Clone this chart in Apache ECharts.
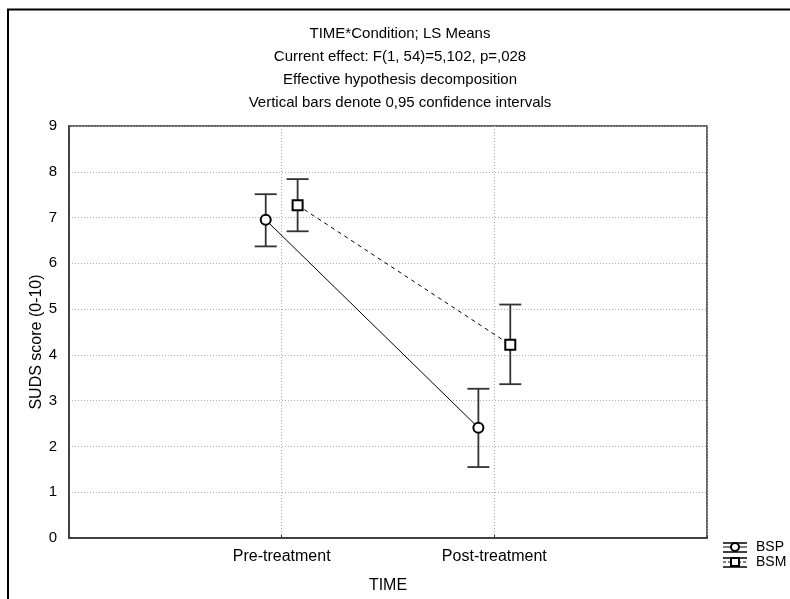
<!DOCTYPE html>
<html>
<head>
<meta charset="utf-8">
<script src="https://cdn.jsdelivr.net/npm/echarts@6/dist/echarts.min.js"></script>
<style>
html,body{margin:0;padding:0;background:#fff;}
#chart{width:790px;height:599px;}
</style>
</head>
<body>
<div id="chart"></div>
<script>
// data
const categories = ['Pre-treatment', 'Post-treatment'];
const bspMean = [6.95, 2.41];
const bspLow = [6.37, 1.55];
const bspHigh = [7.51, 3.26];
const bsmMean = [7.27, 4.22];
const bsmLow = [6.70, 3.36];
const bsmHigh = [7.84, 5.10];
const yTicks = [0, 1, 2, 3, 4, 5, 6, 7, 8, 9];
const titleLines = [
  'TIME*Condition; LS Means',
  'Current effect: F(1, 54)=5,102, p=,028',
  'Effective hypothesis decomposition',
  'Vertical bars denote 0,95 confidence intervals'
];

const shift = 0.075; // horizontal dodge of the two groups
const font = 'Liberation Sans, Arial, sans-serif';

const pts = (mean, off) => mean.map((v, i) => [i + 1 + off, v]);
const bars = (low, high, off) => low.map((v, i) => [i + 1 + off, v, high[i]]);

const errRender = (params, api) => {
  const x = api.value(0);
  const lo = api.coord([x, api.value(1)]);
  const hi = api.coord([x, api.value(2)]);
  const w = 11;
  const st = { stroke: '#333', lineWidth: 1.8 };
  return {
    type: 'group',
    children: [
      { type: 'line', shape: { x1: lo[0], y1: lo[1], x2: hi[0], y2: hi[1] }, style: st },
      { type: 'line', shape: { x1: lo[0] - w, y1: lo[1], x2: lo[0] + w, y2: lo[1] }, style: st },
      { type: 'line', shape: { x1: hi[0] - w, y1: hi[1], x2: hi[0] + w, y2: hi[1] }, style: st }
    ]
  };
};

const myChart = echarts.init(document.getElementById('chart'));

// small legend drawn by hand (symbols carry an error bar)
const legendItem = (y, name, square) => {
  const x = 735;
  const st = { stroke: '#000', lineWidth: 1.5 };
  const kids = [
    { type: 'line', shape: { x1: x - 12, y1: y - 4, x2: x + 12, y2: y - 4 }, style: st },
    { type: 'line', shape: { x1: x - 12, y1: y + 5, x2: x + 12, y2: y + 5 }, style: st },
    { type: 'line', shape: { x1: x, y1: y - 4, x2: x, y2: y + 5 }, style: st },
    { type: 'line', shape: { x1: x - 12, y1: y, x2: x + 12, y2: y }, style: { stroke: '#000', lineWidth: 1, lineDash: square ? [3, 2] : null } }
  ];
  if (square) {
    kids.push({ type: 'rect', shape: { x: x - 4, y: y - 4, width: 8, height: 8 }, style: { fill: '#fff', stroke: '#000', lineWidth: 2 } });
  } else {
    kids.push({ type: 'circle', shape: { cx: x, cy: y, r: 4 }, style: { fill: '#fff', stroke: '#000', lineWidth: 2 } });
  }
  kids.push({ type: 'text', x: 756, y: y, style: { text: name, font: '14px ' + font, fill: '#000', textVerticalAlign: 'middle' } });
  return { type: 'group', children: kids };
};

let option = {
  backgroundColor: '#fff',
  animation: false,
  title: {
    text: titleLines.join('\n'),
    left: 395,
    top: 18,
    textAlign: 'center',
    textStyle: { fontFamily: font, fontSize: 15, fontWeight: 'normal', color: '#000', lineHeight: 22.7 }
  },
  grid: {
    left: 69, right: 83, top: 126, bottom: 61,
    show: true, borderColor: '#333', borderWidth: 1.5
  },
  xAxis: {
    type: 'value',
    min: 0, max: 3, interval: 1,
    name: 'TIME',
    nameLocation: 'middle',
    nameGap: 40,
    nameTextStyle: { fontFamily: font, fontSize: 16, color: '#000' },
    axisLine: { show: true, lineStyle: { color: '#333', width: 1.5 } },
    axisTick: { show: true, inside: true, length: 3, lineStyle: { color: '#333' } },
    axisLabel: {
      fontFamily: font, fontSize: 16, color: '#000', margin: 11,
      formatter: v => categories[v - 1] || ''
    },
    splitLine: { show: true, lineStyle: { color: '#aaa', type: [1, 2], width: 1 } }
  },
  yAxis: {
    type: 'value',
    min: 0, max: 9, interval: 1,
    name: 'SUDS score (0-10)',
    nameLocation: 'middle',
    nameGap: 24,
    nameMoveOverlap: false,
    nameTextStyle: { fontFamily: font, fontSize: 16, color: '#000', padding: [0, 0, 0, -20] },
    axisLine: { show: true, lineStyle: { color: '#333', width: 1.5 } },
    axisTick: { show: false },
    axisLabel: {
      fontFamily: font, fontSize: 15, color: '#000', margin: 12,
      formatter: v => (yTicks.includes(v) ? String(v) : '')
    },
    splitLine: { show: true, lineStyle: { color: '#aaa', type: [1, 2], width: 1 } }
  },
  series: [
    {
      name: 'BSP err', type: 'custom', renderItem: errRender,
      data: bars(bspLow, bspHigh, -shift), z: 2, silent: true
    },
    {
      name: 'BSM err', type: 'custom', renderItem: errRender,
      data: bars(bsmLow, bsmHigh, shift), z: 2, silent: true
    },
    {
      name: 'BSP', type: 'line', data: pts(bspMean, -shift),
      symbol: 'circle', symbolSize: 10, z: 3,
      lineStyle: { color: '#000', width: 1 },
      itemStyle: { color: '#fff', borderColor: '#000', borderWidth: 2 }
    },
    {
      name: 'BSM', type: 'line', data: pts(bsmMean, shift),
      symbol: 'rect', symbolSize: 10, z: 3,
      lineStyle: { color: '#000', width: 1, type: [4, 4] },
      itemStyle: { color: '#fff', borderColor: '#000', borderWidth: 2 }
    }
  ],
  graphic: [
    {
      type: 'polyline', silent: true,
      shape: { points: [[8, 605], [8, 9.5], [800, 9.5]] },
      style: { fill: null, stroke: '#000', lineWidth: 2 }
    },
    legendItem(547, 'BSP', false),
    legendItem(562, 'BSM', true)
  ]
};

myChart.setOption(option);
</script>
</body>
</html>
